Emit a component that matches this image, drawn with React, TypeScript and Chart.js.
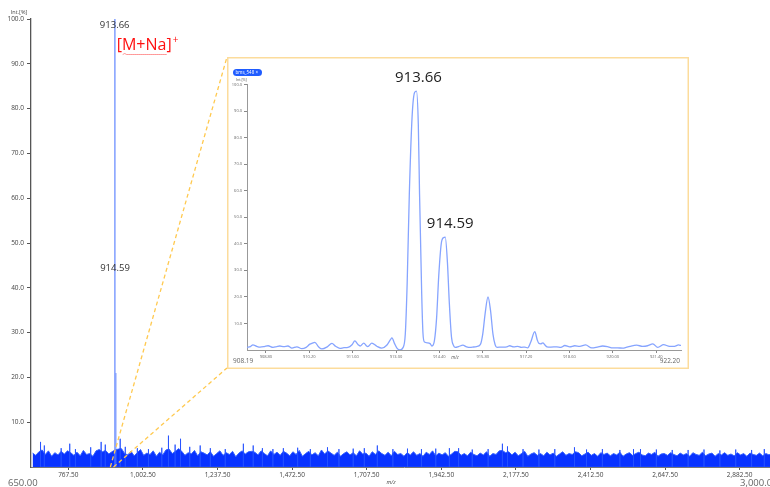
import React, { useEffect, useRef } from "react";
import { Chart, registerables } from "chart.js";

Chart.register(...registerables);

// ---------- full-range spectrum ----------
const fullMzRange = [650, 3000];
const fullXTicks = [767.5, 1002.5, 1237.5, 1472.5, 1707.5, 1942.5, 2177.5, 2412.5, 2647.5, 2882.5];
const fullYTicks = [10, 20, 30, 40, 50, 60, 70, 80, 90, 100];

// baseline noise band, sampled every 10 m/z starting at 655
const noiseStartMz = 655;
const noiseStepMz = 10;
const noiseInt = [
  3.1, 2.6, 3.4, 3.8, 2.8, 3.6, 2.4, 3.2, 2.7, 3.5, 2.9, 3.6, 3.2, 2.6, 3.3, 2.5, 3.7, 2.8, 3.0, 2.4,
  3.6, 3.9, 3.4, 3.7, 2.9, 3.4, 3.8, 4.0, 4.1, 3.0, 2.7, 3.5, 2.5, 3.2, 3.9, 2.6, 3.1, 2.8, 3.6, 2.4,
  3.3, 2.7, 3.8, 4.0, 3.0, 3.5, 4.1, 3.5, 2.6, 3.2, 2.9, 3.7, 2.5, 3.4, 3.1, 2.7, 3.4, 2.4, 3.0, 3.6,
  2.6, 3.2, 2.8, 3.5, 2.3, 3.1, 3.6, 2.9, 3.4, 3.5, 3.3, 2.7, 3.6, 3.0, 2.5, 3.6, 2.8, 3.3, 2.6, 3.5,
  3.1, 2.5, 3.4, 2.8, 3.7, 2.4, 3.0, 3.5, 2.7, 3.2, 2.5, 3.8, 2.9, 3.6, 3.1, 2.6, 3.3, 2.4, 3.0, 3.4,
  2.7, 3.2, 2.5, 3.6, 2.9, 3.1, 2.4, 3.4, 2.8, 3.6, 3.0, 2.6, 3.3, 2.5, 3.5, 2.8, 3.0, 2.4, 3.2, 2.7,
  3.4, 2.6, 3.0, 2.4, 3.3, 2.8, 3.6, 2.5, 3.1, 2.7, 3.2, 2.4, 2.9, 3.5, 3.4, 2.6, 3.0, 2.5, 3.3, 2.8,
  2.5, 3.1, 2.7, 3.4, 2.4, 3.0, 2.8, 3.6, 3.7, 3.2, 3.4, 2.7, 3.3, 2.5, 3.0, 3.5, 2.4, 2.9, 3.2, 2.6,
  3.0, 2.5, 3.3, 2.7, 3.1, 2.4, 2.9, 3.4, 2.6, 3.0, 2.8, 3.4, 3.2, 2.5, 2.9, 3.3, 2.6, 3.0, 2.4, 3.2,
  2.8, 3.1, 2.5, 3.0, 2.7, 3.3, 2.4, 2.9, 3.2, 2.6, 3.0, 3.3, 2.7, 2.5, 3.1, 2.8, 3.3, 2.4, 2.9, 3.0,
  2.6, 3.2, 2.8, 2.5, 3.1, 2.7, 3.0, 2.4, 3.2, 2.8, 2.6, 3.3, 2.5, 2.9, 3.1, 2.4, 3.0, 2.7, 3.2, 2.6,
  2.9, 2.5, 3.2, 2.7, 3.0, 2.4, 3.1, 2.8, 2.6, 3.1, 2.5, 3.0, 2.7, 3.2, 2.8,
];

// isolated noise spikes rising above the band
const spikeMz = [
  680, 692, 745, 772, 790, 838, 871, 884, 931, 947, 985, 1020, 1062, 1083, 1104, 1121, 1150, 1183,
  1215, 1262, 1319, 1350, 1379, 1412, 1445, 1490, 1530, 1584, 1620, 1665, 1700, 1741, 1790, 1836,
  1880, 1925, 1968, 1997, 2040, 2090, 2135, 2151, 2200, 2250, 2300, 2362, 2400, 2450, 2505, 2548,
  2570, 2620, 2670, 2720, 2770, 2820, 2870, 2920, 2960, 2990,
];
const spikeInt = [
  5.6, 4.8, 4.2, 5.2, 4.0, 4.4, 5.6, 5.0, 6.3, 4.5, 4.2, 4.0, 4.3, 7.0, 5.0, 6.3, 4.5, 4.8,
  4.2, 4.0, 5.2, 4.8, 4.2, 4.0, 4.2, 4.3, 4.0, 4.4, 4.0, 4.1, 4.2, 4.8, 4.0, 4.1,
  4.0, 4.1, 4.2, 4.2, 3.9, 4.0, 5.2, 4.6, 4.0, 3.9, 4.0, 4.4, 3.9, 4.0, 3.8, 4.0,
  4.0, 3.9, 3.8, 3.8, 3.9, 3.7, 3.9, 3.8, 4.0, 3.9,
];

// centroid peaks of the sodium adduct cluster
const peakMz = [913.66, 914.59, 915.97, 917.48];
const peakInt = [100, 45.6, 21, 7];
const labelledPeaks = [0, 1];

// ---------- zoomed profile 908.19 – 922.20 ----------
const zoomMzRange = [908.19, 922.2];
const zoomXTicks = [908.8, 910.2, 911.6, 913.0, 914.4, 915.8, 917.2, 918.6, 920.0, 921.4];
const zoomYTicks = [10, 20, 30, 40, 50, 60, 70, 80, 90, 100];
const zoomMz = [
  908.19, 908.3, 908.38, 908.5, 908.61, 908.75, 908.87, 909.03, 909.15, 909.25,
  909.38, 909.51, 909.64, 909.8, 909.96, 910.1, 910.22, 910.3, 910.38, 910.5,
  910.61, 910.78, 910.93, 911.05, 911.19, 911.32, 911.45, 911.58, 911.67, 911.78,
  911.84, 911.96, 912.05, 912.09, 912.22, 912.38, 912.54, 912.7, 912.82, 912.87,
  912.95, 913.03, 913.13, 913.22, 913.3, 913.36, 913.43, 913.52, 913.6, 913.66,
  913.72, 913.76, 913.83, 913.87, 913.92, 914.02, 914.1, 914.16, 914.24, 914.31,
  914.38, 914.46, 914.53, 914.59, 914.66, 914.72, 914.79, 914.86, 914.92, 915.02,
  915.16, 915.28, 915.4, 915.48, 915.6, 915.72, 915.8, 915.88, 915.97, 916.05,
  916.13, 916.2, 916.26, 916.4, 916.58, 916.67, 916.8, 916.93, 917.05, 917.16,
  917.25, 917.35, 917.48, 917.56, 917.61, 917.67, 917.74, 917.8, 917.87, 918.0,
  918.19, 918.32, 918.45, 918.61, 918.77, 918.93, 919.12, 919.32, 919.5, 919.67,
  919.85, 919.99, 920.15, 920.32, 920.45, 920.55, 920.77, 920.96, 921.12, 921.29,
  921.45, 921.64, 921.83, 921.99, 922.12, 922.2,
];
const zoomInt = [
  1.0, 1.3, 1.9, 1.4, 1.1, 1.3, 1.6, 1.0, 1.3, 1.5,
  1.3, 1.5, 0.7, 1.2, 0.5, 1.0, 2.2, 2.6, 2.9, 1.2,
  0.4, 1.2, 2.5, 1.4, 0.6, 0.9, 1.0, 2.0, 3.4, 2.0,
  1.5, 2.6, 1.5, 1.3, 2.6, 1.4, 0.7, 1.8, 3.9, 4.6,
  2.5, 0.7, 0.0, 0.8, 6.0, 25, 58.8, 88, 97, 97.5,
  85, 58.8, 21, 6.4, 3.0, 2.7, 2.4, 1.5, 3.5, 12,
  28, 40, 42.3, 42.5, 33, 18, 5, 1.6, 1.0, 1.3,
  1.8, 1.2, 1.0, 1.1, 1.3, 2.0, 6, 14, 20, 15,
  6, 2.0, 1.0, 1.1, 1.2, 1.6, 1.2, 1.4, 1.0, 1.1,
  0.8, 3.0, 6.9, 3.8, 2.5, 2.3, 2.7, 2.0, 1.2, 1.1,
  1.2, 1.0, 1.7, 1.2, 1.6, 1.4, 1.9, 0.8, 1.1, 1.5,
  1.2, 0.8, 0.8, 0.7, 1.1, 1.4, 1.8, 1.4, 1.6, 2.3,
  1.0, 2.0, 1.4, 1.4, 1.9, 1.7,
];
const zoomLabelled = [913.66, 914.59];
const zoomLabelInt = [97.5, 42.5];

// ---------- layout ----------
const PAGE_W = 770;
const PAGE_H = 487;
const MAIN_W = 780;
const INSET = { left: 227, top: 57, width: 462, height: 312 };
const FONT = '"Open Sans", "Noto Sans", sans-serif';

const fmtThousands = (v: number) =>
  v.toLocaleString("en-US", { minimumFractionDigits: 2, maximumFractionDigits: 2 });

const sticks = (mz: number[], inten: number[]) => {
  const pts: { x: number; y: number }[] = [];
  mz.forEach((m, i) => {
    pts.push({ x: m, y: 0 }, { x: m, y: inten[i] }, { x: m, y: 0 });
  });
  return pts;
};

export default function App() {
  const mainRef = useRef<HTMLCanvasElement>(null);
  const zoomRef = useRef<HTMLCanvasElement>(null);

  useEffect(() => {
    document.body.style.margin = "0";
    document.body.style.overflow = "hidden";

    const noisePoints = noiseInt.map((v, i) => ({ x: noiseStartMz + i * noiseStepMz, y: v }));

    const mainDecor = {
      id: "mainDecor",
      afterDatasetsDraw(chart: any) {
        const { ctx, scales } = chart;
        const x = scales.x;
        const y = scales.y;
        const base = y.getPixelForValue(0);
        ctx.save();
        // connector lines to the zoom panel
        ctx.strokeStyle = "#ffc94f";
        ctx.lineWidth = 1.3;
        ctx.setLineDash([4, 3]);
        ctx.beginPath();
        ctx.moveTo(x.getPixelForValue(900), base);
        ctx.lineTo(INSET.left, INSET.top);
        ctx.moveTo(x.getPixelForValue(910), base);
        ctx.lineTo(INSET.left, INSET.top + INSET.height - 1);
        ctx.stroke();
        ctx.restore();
      },
      afterDraw(chart: any) {
        const { ctx, scales } = chart;
        const x = scales.x;
        const y = scales.y;
        ctx.save();
        // peak labels
        ctx.font = `9.5px ${FONT}`;
        ctx.fillStyle = "#333";
        ctx.textAlign = "center";
        ctx.textBaseline = "middle";
        labelledPeaks.forEach((k) => {
          ctx.fillText(peakMz[k].toFixed(2), x.getPixelForValue(peakMz[k]), y.getPixelForValue(peakInt[k]) + 6);
        });
        // ion annotation
        const ionX = x.getPixelForValue(peakMz[0]) + 2;
        ctx.fillStyle = "#ff1010";
        ctx.font = `16px ${FONT}`;
        ctx.textAlign = "left";
        ctx.textBaseline = "middle";
        ctx.fillText("[M+Na]", ionX, 45);
        const w = ctx.measureText("[M+Na]").width;
        ctx.font = `10px ${FONT}`;
        ctx.fillText("+", ionX + w + 1, 40);
        // spelling squiggle under M+Na
        ctx.strokeStyle = "rgba(255,40,40,0.7)";
        ctx.lineWidth = 0.7;
        ctx.beginPath();
        for (let px = ionX + 6; px <= ionX + 50; px += 2) {
          const py = 53.5 + (((px - ionX) / 2) % 2 === 0 ? 0 : 1);
          if (px === ionX + 6) ctx.moveTo(px, py);
          else ctx.lineTo(px, py);
        }
        ctx.stroke();
        // axis captions
        ctx.fillStyle = "#444";
        ctx.font = `5.5px ${FONT}`;
        ctx.textAlign = "center";
        ctx.fillText("Int.[%]", 19, 12);
        ctx.font = `italic 5.5px ${FONT}`;
        ctx.fillText("m/z", 391, 482);
        // range end values
        ctx.fillStyle = "#666";
        ctx.font = `9.5px ${FONT}`;
        ctx.textAlign = "left";
        ctx.fillText(fmtThousands(fullMzRange[0]), 8, 483);
        ctx.fillText(fmtThousands(fullMzRange[1]), 740, 483);
        ctx.restore();
      },
    };

    const main = new Chart(mainRef.current!, {
      type: "scatter",
      data: {
        datasets: [
          {
            data: sticks(peakMz, peakInt),
            showLine: true,
            borderColor: "rgba(85,125,255,0.7)",
            borderWidth: 1.6,
            pointRadius: 0,
            fill: false,
          },
          {
            data: sticks(spikeMz, spikeInt),
            showLine: true,
            borderColor: "rgba(35,80,255,0.85)",
            borderWidth: 1,
            pointRadius: 0,
            fill: false,
          },
          {
            data: noisePoints,
            showLine: true,
            borderColor: "rgb(50,95,255)",
            backgroundColor: "rgb(8,50,255)",
            borderWidth: 1,
            pointRadius: 0,
            fill: "origin",
          },
        ],
      },
      options: {
        animation: false,
        responsive: false,
        devicePixelRatio: 1,
        layout: { padding: { left: 0, top: 19, right: 3, bottom: 0 } },
        plugins: { legend: { display: false }, tooltip: { enabled: false } },
        scales: {
          x: {
            type: "linear",
            min: fullMzRange[0],
            max: fullMzRange[1],
            afterBuildTicks: (s: any) => {
              s.ticks = fullXTicks.map((v) => ({ value: v }));
            },
            afterFit: (s: any) => {
              s.height = 20;
              s.paddingLeft = 0;
              s.paddingRight = 0;
            },
            ticks: {
              autoSkip: false,
              maxRotation: 0,
              padding: 1,
              color: "#444",
              font: { size: 6.5, family: FONT },
              callback: (v: any) => fmtThousands(Number(v)),
            },
            grid: { drawOnChartArea: false, drawTicks: true, tickLength: 3, color: "#555" },
            border: { display: true, color: "#777", width: 1 },
          },
          y: {
            type: "linear",
            min: 0,
            max: 100,
            afterBuildTicks: (s: any) => {
              s.ticks = fullYTicks.map((v) => ({ value: v }));
            },
            afterFit: (s: any) => {
              s.width = 31;
              s.paddingTop = 0;
              s.paddingBottom = 0;
            },
            ticks: {
              autoSkip: false,
              padding: 3,
              color: "#444",
              font: { size: 6.5, family: FONT },
              callback: (v: any) => Number(v).toFixed(1),
            },
            grid: { drawOnChartArea: false, drawTicks: true, tickLength: 4, color: "#555" },
            border: { display: true, color: "#555", width: 1.3 },
          },
        },
      },
      plugins: [mainDecor],
    } as any);

    const zoomDecor = {
      id: "zoomDecor",
      beforeDraw(chart: any) {
        const { ctx } = chart;
        ctx.save();
        ctx.fillStyle = "#fff";
        ctx.fillRect(0, 0, INSET.width, INSET.height);
        ctx.restore();
      },
      afterDraw(chart: any) {
        const { ctx, scales } = chart;
        const x = scales.x;
        const y = scales.y;
        ctx.save();
        // frame
        ctx.strokeStyle = "#fcdc9c";
        ctx.lineWidth = 1.5;
        ctx.strokeRect(0.75, 0.75, INSET.width - 1.5, INSET.height - 1.5);
        // peak labels
        ctx.fillStyle = "#222";
        ctx.font = `15px ${FONT}`;
        ctx.textAlign = "center";
        ctx.textBaseline = "middle";
        zoomLabelled.forEach((mz, i) => {
          ctx.fillText(mz.toFixed(2), x.getPixelForValue(mz) + 2 + i * 3, y.getPixelForValue(zoomLabelInt[i]) - 13);
        });
        // spectrum tag
        ctx.fillStyle = "#1f5cff";
        ctx.beginPath();
        (ctx as any).roundRect(6, 12, 29, 7, 3.5);
        ctx.fill();
        ctx.fillStyle = "#fff";
        ctx.font = `4.5px ${FONT}`;
        ctx.textAlign = "left";
        ctx.fillText("bms_548 \u00d7", 8.5, 15.7);
        // captions
        ctx.fillStyle = "#555";
        ctx.font = `3.6px ${FONT}`;
        ctx.textAlign = "left";
        ctx.fillText("Int.[%]", 9, 23);
        ctx.font = `italic 4.5px ${FONT}`;
        ctx.textAlign = "center";
        ctx.fillText("m/z", 228, 301);
        ctx.fillStyle = "#666";
        ctx.font = `6.5px ${FONT}`;
        ctx.textAlign = "left";
        ctx.fillText(zoomMzRange[0].toFixed(2), 6, 304);
        ctx.textAlign = "right";
        ctx.fillText(zoomMzRange[1].toFixed(2), 453, 304);
        ctx.restore();
      },
    };

    const zoom = new Chart(zoomRef.current!, {
      type: "scatter",
      data: {
        datasets: [
          {
            data: zoomMz.map((mz, i) => ({ x: mz, y: zoomInt[i] })),
            showLine: true,
            borderColor: "#86a4ff",
            borderWidth: 1.3,
            pointRadius: 0,
            cubicInterpolationMode: "monotone",
            fill: false,
          },
        ],
      },
      options: {
        animation: false,
        responsive: false,
        devicePixelRatio: 1,
        layout: { padding: { left: 0, top: 27.5, right: 8, bottom: 0 } },
        plugins: { legend: { display: false }, tooltip: { enabled: false } },
        scales: {
          x: {
            type: "linear",
            min: zoomMzRange[0],
            max: zoomMzRange[1],
            afterBuildTicks: (s: any) => {
              s.ticks = zoomXTicks.map((v) => ({ value: v }));
            },
            afterFit: (s: any) => {
              s.height = 19;
              s.paddingLeft = 0;
              s.paddingRight = 0;
            },
            ticks: {
              autoSkip: false,
              maxRotation: 0,
              padding: 1,
              color: "#666",
              font: { size: 4, family: FONT },
              callback: (v: any) => Number(v).toFixed(2),
            },
            grid: { drawOnChartArea: false, drawTicks: true, tickLength: 3, color: "#888" },
            border: { display: true, color: "#999", width: 1 },
          },
          y: {
            type: "linear",
            min: 0,
            max: 100,
            afterBuildTicks: (s: any) => {
              s.ticks = zoomYTicks.map((v) => ({ value: v }));
            },
            afterFit: (s: any) => {
              s.width = 20;
              s.paddingTop = 0;
              s.paddingBottom = 0;
            },
            ticks: {
              autoSkip: false,
              padding: 2,
              color: "#666",
              font: { size: 4, family: FONT },
              callback: (v: any) => Number(v).toFixed(1),
            },
            grid: { drawOnChartArea: false, drawTicks: true, tickLength: 3, color: "#888" },
            border: { display: true, color: "#999", width: 1 },
          },
        },
      },
      plugins: [zoomDecor],
    } as any);

    return () => {
      main.destroy();
      zoom.destroy();
    };
  }, []);

  return (
    <div
      style={{
        position: "relative",
        width: PAGE_W,
        height: PAGE_H,
        overflow: "hidden",
        background: "#fff",
      }}
    >
      <canvas
        ref={mainRef}
        width={MAIN_W}
        height={PAGE_H}
        style={{ position: "absolute", left: 0, top: 0 }}
      />
      <div
        style={{
          position: "absolute",
          left: INSET.left,
          top: INSET.top,
          width: INSET.width,
          height: INSET.height,
        }}
      >
        <canvas ref={zoomRef} width={INSET.width} height={INSET.height} />
      </div>
    </div>
  );
}
